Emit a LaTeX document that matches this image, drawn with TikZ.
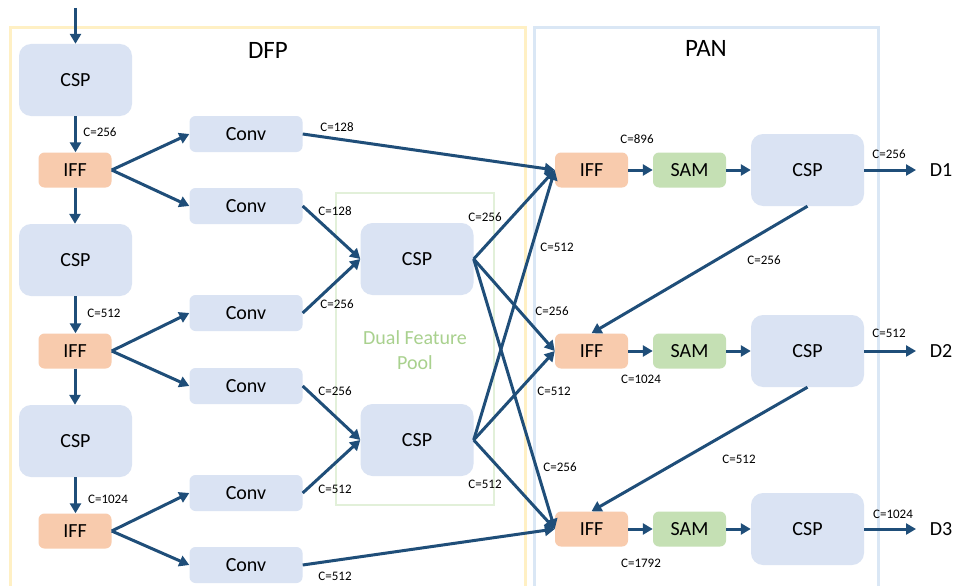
\documentclass[tikz,border=0pt]{standalone}
\usepackage{fontspec}
\setmainfont{Carlito}
\usetikzlibrary{arrows.meta}
\definecolor{boxblue}{HTML}{DAE3F3}
\definecolor{iffor}{HTML}{F8CBAD}
\definecolor{samgr}{HTML}{C5E0B4}
\definecolor{arrowc}{HTML}{1F4E79}
\definecolor{frameyel}{HTML}{FFF0C4}
\definecolor{frameblu}{HTML}{DAE7F5}
\definecolor{poolgr}{HTML}{E2F0D9}
\definecolor{pooltxt}{HTML}{A9D18E}
\tikzset{
  bigbox/.style={fill=boxblue, rounded corners=12pt, minimum width=113pt, minimum height=72pt, inner sep=0pt, font=\fontsize{20}{24}\selectfont},
  convbox/.style={fill=boxblue, rounded corners=6pt, minimum width=113pt, minimum height=36pt, inner sep=0pt, font=\fontsize{20}{24}\selectfont},
  iffbox/.style={fill=iffor, rounded corners=6pt, minimum width=73pt, minimum height=35pt, inner sep=0pt, font=\fontsize{20}{24}\selectfont},
  sambox/.style={fill=samgr, rounded corners=6pt, minimum width=73pt, minimum height=35pt, inner sep=0pt, font=\fontsize{20}{24}\selectfont},
  lbl/.style={inner sep=0pt, font=\fontsize{13}{15}\selectfont},
  title/.style={inner sep=0pt, font=\fontsize{25}{30}\selectfont},
  outtxt/.style={inner sep=0pt, font=\fontsize{20}{24}\selectfont},
  arr/.style={draw=arrowc, line width=3pt, -{Triangle[length=10pt,width=11pt]}}
}
\begin{document}
\begin{tikzpicture}[x=1pt,y=-1pt]
\clip (0,0) rectangle (953,586);
\fill[white] (0,0) rectangle (953,586);
% frames
\draw[frameyel, line width=3pt] (10,28) rectangle (525,600);
\draw[frameblu, line width=3pt] (534,28) rectangle (878,600);
\draw[poolgr, line width=2.2pt] (336,193) rectangle (494,505);
\node[title] (tdfp) at (268,50) {DFP};
\node[title] (tpan) at (706,48) {PAN};
\node[inner sep=0pt, text=pooltxt, font=\fontsize{20}{24}\selectfont] (pool1) at (415,338) {Dual Feature};
\node[inner sep=0pt, text=pooltxt, font=\fontsize{20}{24}\selectfont] (pool2) at (415,363) {Pool};
% backbone column
\node[bigbox] (csp1) at (75.5,80) {CSP};
\node[iffbox] (iff1) at (75,170) {IFF};
\node[bigbox] (csp2) at (75.5,260) {CSP};
\node[iffbox] (iff2) at (75,351) {IFF};
\node[bigbox] (csp3) at (75.5,441) {CSP};
\node[iffbox] (iff3) at (75,531) {IFF};
% conv column
\node[convbox] (conv1) at (246,134) {Conv};
\node[convbox] (conv2) at (246,206) {Conv};
\node[convbox] (conv3) at (246,313) {Conv};
\node[convbox] (conv4) at (246,386) {Conv};
\node[convbox] (conv5) at (246,493) {Conv};
\node[convbox] (conv6) at (246,565) {Conv};
% pool
\node[bigbox] (cspa) at (417,259) {CSP};
\node[bigbox] (cspb) at (417,440) {CSP};
% PAN
\node[iffbox] (iffp1) at (591.5,170) {IFF};
\node[sambox] (samp1) at (689.5,170) {SAM};
\node[bigbox] (cspp1) at (807.5,170) {CSP};
\node[iffbox] (iffp2) at (591.5,351) {IFF};
\node[sambox] (samp2) at (689.5,351) {SAM};
\node[bigbox] (cspp2) at (807.5,351) {CSP};
\node[iffbox] (iffp3) at (591.5,529) {IFF};
\node[sambox] (samp3) at (689.5,529) {SAM};
\node[bigbox] (cspp3) at (807.5,529) {CSP};
\node[outtxt] (d1) at (941,170) {D1};
\node[outtxt] (d2) at (941,351) {D2};
\node[outtxt] (d3) at (941,529) {D3};
\coordinate (in) at (75.5,8);
\coordinate (o1) at (916,170);
\coordinate (o2) at (916,351);
\coordinate (o3) at (916,529);
% backbone arrows
\draw[arr] (in) -- (csp1.north);
\draw[arr] (csp1.south) -- (csp1.south |- iff1.north);
\draw[arr] (iff1.south) -- (iff1.south |- csp2.north);
\draw[arr] (csp2.south) -- (csp2.south |- iff2.north);
\draw[arr] (iff2.south) -- (iff2.south |- csp3.north);
\draw[arr] (csp3.south) -- (csp3.south |- iff3.north);
% IFF -> Conv
\draw[arr] (iff1.east) -- (conv1.west);
\draw[arr] (iff1.east) -- (conv2.west);
\draw[arr] (iff2.east) -- (conv3.west);
\draw[arr] (iff2.east) -- (conv4.west);
\draw[arr] (iff3.east) -- (conv5.west);
\draw[arr] (iff3.east) -- (conv6.west);
% Conv -> pool
\draw[arr] (conv2.east) -- (cspa.west);
\draw[arr] (conv3.east) -- (cspa.west);
\draw[arr] (conv4.east) -- (cspb.west);
\draw[arr] (conv5.east) -- (cspb.west);
% into PAN IFFs
\draw[arr] (conv1.east) -- (iffp1.west);
\draw[arr] (cspa.east) -- (iffp1.west);
\draw[arr] (cspb.east) -- (iffp1.west);
\draw[arr] (cspa.east) -- (iffp2.west);
\draw[arr] (cspb.east) -- (iffp2.west);
\draw[arr] (cspa.east) -- (iffp3.west);
\draw[arr] (cspb.east) -- (iffp3.west);
\draw[arr] (conv6.east) -- (iffp3.west);
% PAN rows
\draw[arr] (iffp1.east) -- (samp1.west);
\draw[arr] (samp1.east) -- (cspp1.west);
\draw[arr] (iffp2.east) -- (samp2.west);
\draw[arr] (samp2.east) -- (cspp2.west);
\draw[arr] (iffp3.east) -- (samp3.west);
\draw[arr] (samp3.east) -- (cspp3.west);
\draw[arr] (cspp1.east) -- (o1);
\draw[arr] (cspp2.east) -- (o2);
\draw[arr] (cspp3.east) -- (o3);
\draw[arr] (cspp1.south) -- (iffp2.north);
\draw[arr] (cspp2.south) -- (iffp3.north);
% labels
\node[lbl] (l1) at (100,132) {C=256};
\node[lbl] (l2) at (104,313) {C=512};
\node[lbl] (l3) at (108,499) {C=1024};
\node[lbl] (l4) at (337,127) {C=128};
\node[lbl] (l5) at (335,211) {C=128};
\node[lbl] (l6) at (337,304) {C=256};
\node[lbl] (l7) at (335,391) {C=256};
\node[lbl] (l8) at (335,489) {C=512};
\node[lbl] (l9) at (335,576) {C=512};
\node[lbl] (l10) at (485,217) {C=256};
\node[lbl] (l11) at (485,484) {C=512};
\node[lbl] (l12) at (557,247) {C=512};
\node[lbl] (l13) at (552,311) {C=256};
\node[lbl] (l14) at (554,391) {C=512};
\node[lbl] (l15) at (560,467) {C=256};
\node[lbl] (l16) at (637,139) {C=896};
\node[lbl] (l17) at (641,379) {C=1024};
\node[lbl] (l18) at (641,563) {C=1792};
\node[lbl] (l19) at (764,260) {C=256};
\node[lbl] (l20) at (739,459) {C=512};
\node[lbl] (l21) at (889,154) {C=256};
\node[lbl] (l22) at (889,333) {C=512};
\node[lbl] (l23) at (893,514) {C=1024};
\end{tikzpicture}
\end{document}
